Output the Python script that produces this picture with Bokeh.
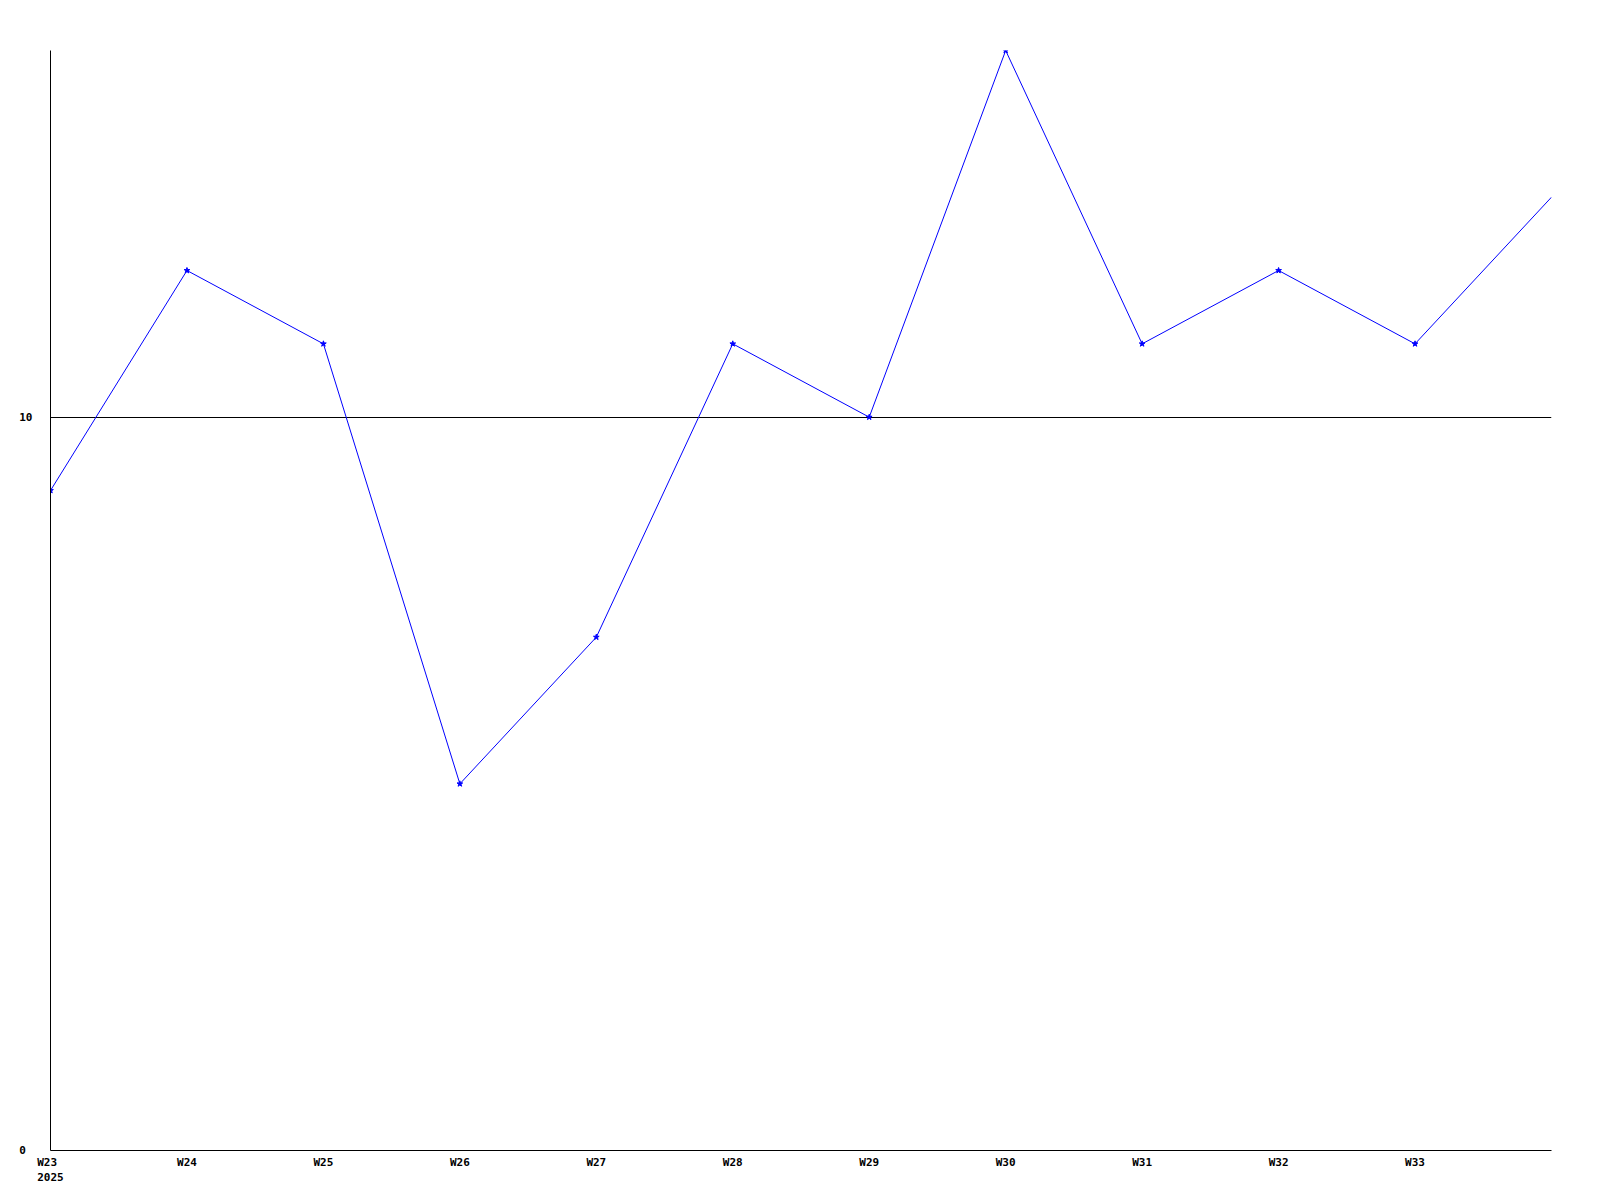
from bokeh.plotting import figure
from bokeh.models import FixedTicker
from bokeh.embed import file_html
from bokeh.resources import INLINE

weeks = ["W23", "W24", "W25", "W26", "W27", "W28", "W29", "W30", "W31", "W32", "W33", "W34"]
values = [9, 12, 11, 5, 7, 11, 10, 15, 11, 12, 11, 13]
y_ticks = [0, 10]
year_label = "2025"

xs = list(range(len(weeks)))

p = figure(width=1592, height=1192, output_backend="svg", toolbar_location=None,
           x_range=(0, len(weeks) - 1), y_range=(0, 15),
           min_border_left=50, min_border_top=50, min_border_bottom=42, min_border_right=41)
p.outline_line_color = None
p.background_fill_color = "white"
p.border_fill_color = "white"

p.line(xs, values, line_color="#0000ff", line_width=1)
p.scatter(xs[:-1], values[:-1], marker="star", size=6, fill_color="#0000ff", line_color="#0000ff")

font = "DejaVu Sans Mono"
labels = {i: w for i, w in enumerate(weeks[:-1])}
labels[0] = weeks[0] + " \n" + year_label
p.xaxis.ticker = FixedTicker(ticks=xs[:-1])
p.xaxis.major_label_overrides = labels
p.yaxis.ticker = FixedTicker(ticks=y_ticks)
p.yaxis.major_label_overrides = {t: str(t).ljust(2, "\u00a0") for t in y_ticks}
for ax in (p.xaxis, p.yaxis):
    ax.major_tick_line_color = None
    ax.minor_tick_line_color = None
    ax.axis_line_color = "black"
    ax.axis_line_width = 1
    ax.major_label_text_font = font
    ax.major_label_text_font_style = "bold"
    ax.major_label_text_font_size = "11px"
    ax.major_label_text_color = "black"
p.xaxis.major_label_standoff = -1
p.yaxis.major_label_standoff = 12

p.xgrid.grid_line_color = None
p.ygrid.ticker = FixedTicker(ticks=[10])
p.ygrid.grid_line_color = "black"
p.ygrid.grid_line_width = 1
p.ygrid.grid_line_alpha = 1

open("out.html", "w").write(file_html(p, INLINE))
